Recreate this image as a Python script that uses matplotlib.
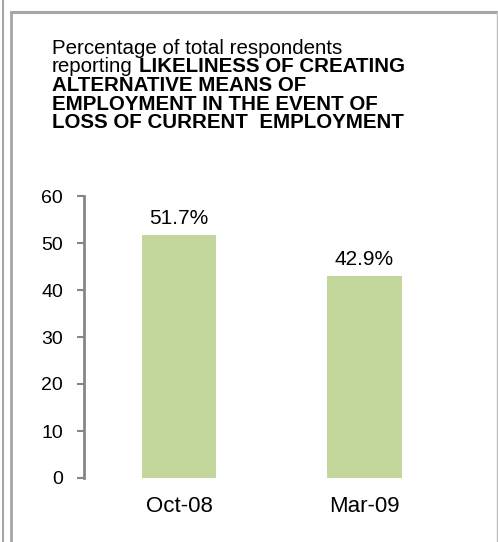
import matplotlib
matplotlib.use("Agg")
import matplotlib.pyplot as plt
from matplotlib.lines import Line2D

plt.rcParams['font.family'] = ['Liberation Sans', 'DejaVu Sans']

# data
periods = ['Oct-08', 'Mar-09']
values = [51.7, 42.9]
value_labels = ['51.7%', '42.9%']
y_ticks = [0, 10, 20, 30, 40, 50, 60]

title_lines = [
    ('Percentage of total respondents', ''),
    ('reporting ', 'LIKELINESS OF CREATING'),
    ('', 'ALTERNATIVE MEANS OF'),
    ('', 'EMPLOYMENT IN THE EVENT OF'),
    ('', 'LOSS OF CURRENT  EMPLOYMENT'),
]

W, H = 498, 542
fig = plt.figure(figsize=(W / 100, H / 100), dpi=100)

# frame lines round the chart
gray = '#a6a6a6'
fig.add_artist(Line2D([2.5 / W, 2.5 / W], [0, 1], color=gray, lw=1.5))
fig.add_artist(Line2D([10.5 / W, 10.5 / W], [0, 1 - 11.5 / H], color=gray, lw=2))
fig.add_artist(Line2D([10.5 / W, 496.5 / W], [1 - 11.5 / H, 1 - 11.5 / H], color=gray, lw=2.2))
fig.add_artist(Line2D([496.5 / W, 496.5 / W], [0, 1 - 11.5 / H], color='#bfbfbf', lw=1))

# title, line by line
fs_title = 14.8
baselines = [54, 72.5, 91, 109.5, 128]
fig.canvas.draw()
renderer = fig.canvas.get_renderer()
for (reg, bold), yb in zip(title_lines, baselines):
    x = 52 / W
    y = 1 - yb / H
    if reg:
        t = fig.text(x, y, reg.strip(), fontsize=fs_title, va='baseline', ha='left')
        bb = t.get_window_extent(renderer)
        x = (bb.x1 + 6) / W
    if bold:
        fig.text(x, y, bold, fontsize=fs_title, fontweight='bold', va='baseline', ha='left')

# axes
ax = fig.add_axes([84 / W, 1 - 478 / H, 375.5 / W, (478 - 196) / H])
xpos = list(range(len(periods)))
bars = ax.bar(xpos, values, width=0.4, color='#c3d69b', zorder=2)
ax.set_xlim(-0.512, 1.512)
ax.set_ylim(0, 60)
ax.set_yticks(y_ticks)
ax.set_xticks(xpos)
ax.set_xticklabels(periods, fontsize=16)
ax.tick_params(axis='x', length=0, pad=13)
ax.tick_params(axis='y', length=5, width=1.5, color='#868686', labelsize=14, pad=10)
for s in ['top', 'right', 'bottom']:
    ax.spines[s].set_visible(False)
ax.spines['left'].set_color('#868686')
ax.spines['left'].set_linewidth(2)

for b, lab in zip(bars, value_labels):
    ax.annotate(lab, (b.get_x() + b.get_width() / 2, b.get_height()),
                xytext=(0, 7), textcoords='offset pixels',
                ha='center', va='bottom', fontsize=15)

fig.savefig('out.png', dpi=100)
